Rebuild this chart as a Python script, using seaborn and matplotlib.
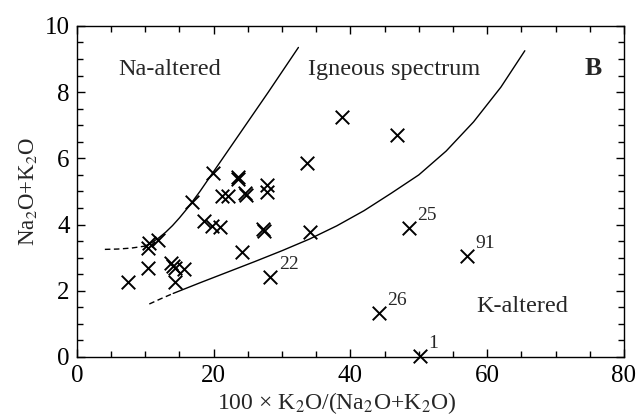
import matplotlib
matplotlib.use("Agg")
import matplotlib.pyplot as plt
import seaborn as sns
import pandas as pd

# ---- data ----
k_ratio = [7.5, 10.4, 10.4, 10.6, 11.8, 13.8, 14.1, 14.4, 15.6, 14.3,
           16.8, 18.6, 19.7, 20.9, 19.9, 21.2, 22.1, 23.6, 23.6, 24.6,
           24.8, 27.8, 27.8, 27.2, 27.4, 24.1, 28.3, 34.1, 33.6, 38.7,
           46.8, 48.5, 57.0, 44.2, 50.2]
alkali = [2.26, 2.68, 3.28, 3.43, 3.53, 2.83, 2.75, 2.68, 2.65, 2.27,
          4.69, 4.12, 3.97, 3.94, 5.56, 4.86, 4.86, 5.45, 5.37, 4.95,
          4.89, 5.20, 4.99, 3.86, 3.82, 3.18, 2.43, 3.77, 5.85, 7.24,
          6.69, 3.89, 3.05, 1.34, 0.02]
sample_ids = ["", "", "", "", "", "", "", "", "", "",
              "", "", "", "", "", "", "", "", "", "",
              "", "", "", "", "", "", "22", "", "", "",
              "", "25", "91", "26", "1"]

# upper boundary (Na-altered / igneous)
upper_dash_x = [4.1, 6.0, 8.0, 10.0]
upper_dash_y = [3.25, 3.26, 3.29, 3.35]
upper_x = [10.0, 11.0, 12.0, 13.0, 14.0, 15.0, 16.0, 17.0, 18.0, 20.0, 24.0, 28.0, 32.4]
upper_y = [3.35, 3.46, 3.60, 3.77, 3.97, 4.20, 4.45, 4.72, 5.00, 5.60, 6.80, 8.00, 9.35]

# lower boundary (igneous / K-altered)
lower_dash_x = [10.6, 12.3, 14.1]
lower_dash_y = [1.60, 1.76, 1.92]
lower_x = [14.1, 18.0, 22.0, 26.0, 30.0, 34.0, 38.0, 42.0, 46.0, 50.0, 54.0, 58.0, 62.0, 65.5]
lower_y = [1.92, 2.24, 2.56, 2.88, 3.21, 3.56, 3.96, 4.42, 4.95, 5.50, 6.22, 7.10, 8.15, 9.25]

# ---- style ----
sns.set_theme(style="ticks")
plt.rcParams["font.family"] = ["Liberation Serif", "DejaVu Serif"]
plt.rcParams["mathtext.fontset"] = "stix"

fig = plt.figure(figsize=(6.4, 4.18), dpi=100)
ax = fig.add_axes([0.120, 0.146, 0.855, 0.792])

pts = pd.DataFrame({"x": k_ratio, "y": alkali, "id": sample_ids})
sns.scatterplot(data=pts, x="x", y="y", marker="x", s=95, color="black",
                linewidth=1.4, ax=ax, clip_on=False, zorder=3)

for xs, ys, ls in [(upper_dash_x, upper_dash_y, (0, (4, 2.5))),
                   (upper_x, upper_y, "-"),
                   (lower_dash_x, lower_dash_y, (0, (4, 2.5))),
                   (lower_x, lower_y, "-")]:
    df = pd.DataFrame({"x": xs, "y": ys})
    sns.lineplot(data=df, x="x", y="y", sort=False, color="black",
                 linewidth=1.0, linestyle=ls, ax=ax, estimator=None)

for xv, yv, lab in zip(k_ratio, alkali, sample_ids):
    if lab:
        ax.annotate(lab, (xv, yv), xytext=(6, 9), textcoords="offset points",
                    ha="left", va="center", fontsize=14)

ax.text(13.6, 8.67, "Na-altered", fontsize=17.5, ha="center", va="center")
ax.text(46.4, 8.67, "Igneous spectrum", fontsize=17.5, ha="center", va="center")
ax.text(75.5, 8.70, "B", fontsize=18.5, fontweight="bold", ha="center", va="center")
ax.text(65.1, 1.51, "K-altered", fontsize=17.5, ha="center", va="center")

ax.set_xlim(0, 80)
ax.set_ylim(0, 10)
ax.set_xticks([0, 20, 40, 60, 80])
ax.set_xticks(range(0, 81, 5), minor=True)
ax.set_yticks([0, 2, 4, 6, 8, 10])
ax.set_yticks([i * 0.5 for i in range(21)], minor=True)
ax.tick_params(which="both", direction="in", top=True, right=True,
               colors="black", width=1.0)
ax.tick_params(which="major", length=6, labelsize=18)
ax.tick_params(axis="x", which="major", pad=6)
ax.tick_params(axis="y", which="major", pad=5)
ax.tick_params(which="minor", length=4)
for sp in ax.spines.values():
    sp.set_linewidth(1.0)
    sp.set_color("black")

ax.set_xlabel("100 \u00d7 K$_2$O/(Na$_2$O+K$_2$O)", fontsize=17)
ax.xaxis.set_label_coords(0.475, -0.10)
ax.set_ylabel("Na$_2$O+K$_2$O", fontsize=16.5, labelpad=4)

fig.savefig("out.png", dpi=100)
